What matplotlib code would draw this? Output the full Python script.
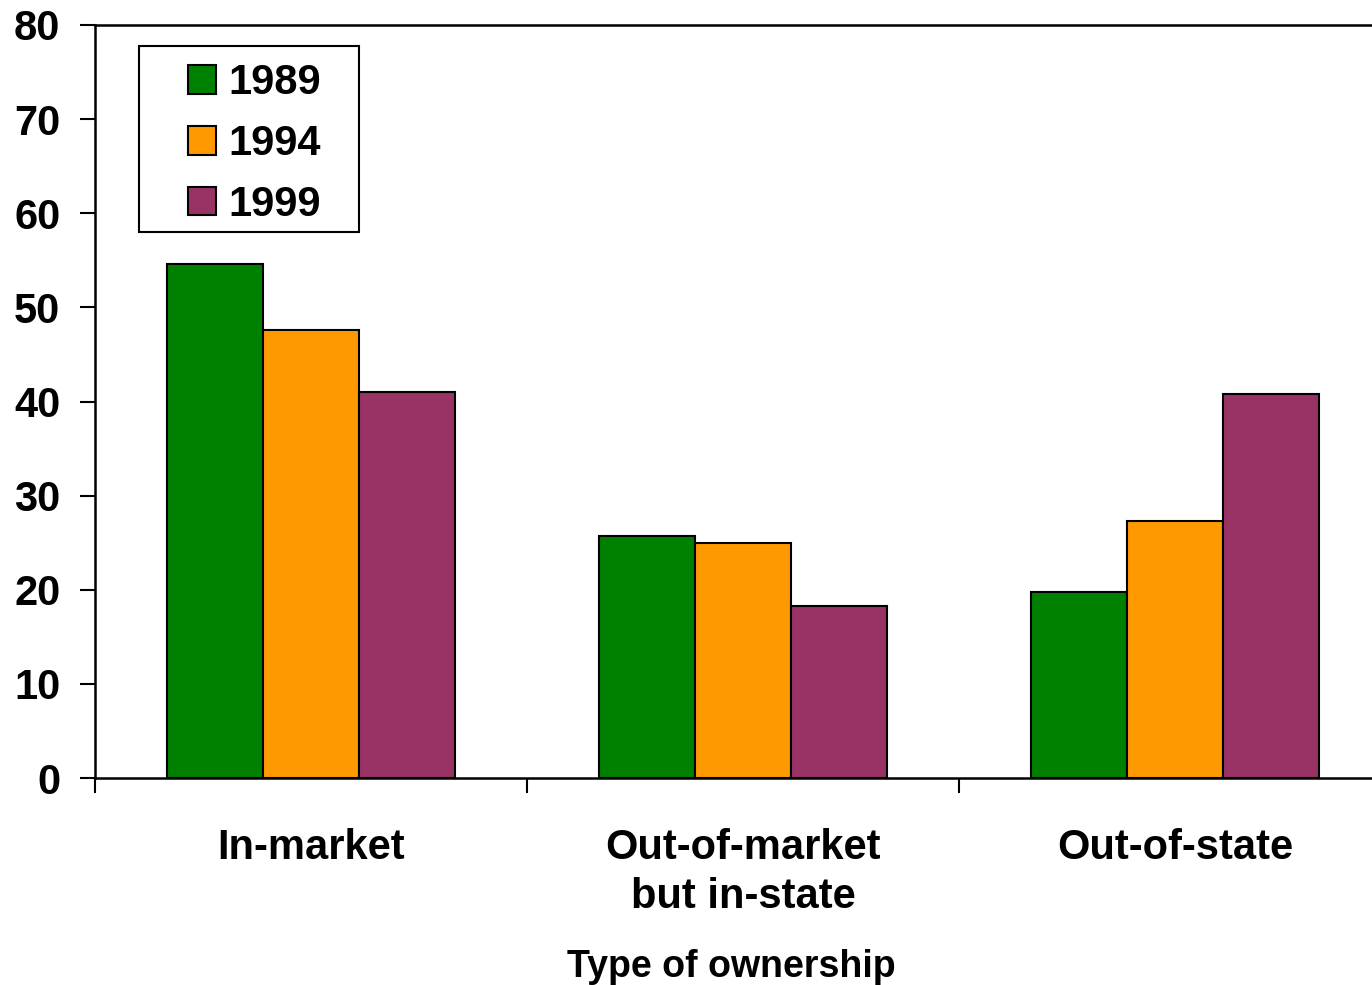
import numpy as np
import matplotlib
matplotlib.use("Agg")
import matplotlib.pyplot as plt
from matplotlib.patches import Rectangle

categories = ["In-market", "Out-of-market\nbut in-state", "Out-of-state"]
years = ["1989", "1994", "1999"]
v1989 = [54.6, 25.7, 19.8]
v1994 = [47.6, 25.0, 27.3]
v1999 = [41.0, 18.3, 40.8]
colors = ["#008000", "#FF9900", "#993366"]

plt.rcParams['font.family'] = ['Liberation Sans', 'DejaVu Sans']
plt.rcParams['font.weight'] = 'bold'

fig = plt.figure(figsize=(13.72, 9.85), dpi=100)
# axes runs a bit past the right edge, as in the original
ax = fig.add_axes([95 / 1372, 1 - 778 / 985, 1296 / 1372, 753 / 985])

x = np.arange(len(categories))
w = 0.222
for i, (vals, yr) in enumerate(zip([v1989, v1994, v1999], years)):
    ax.bar(x + (i - 1) * w, vals, w, color=colors[i], edgecolor="black",
           linewidth=1.5, label=yr, zorder=2)

ax.set_xlim(-0.5, 2.5)
ax.set_ylim(0, 80)
ax.set_yticks(range(0, 81, 10))

# tick marks between groups, labels under groups
ax.set_xticks([-0.5, 0.5, 1.5])
ax.set_xticklabels([])
ax.set_xticks(x, minor=True)
ax.set_xticklabels(categories, minor=True, fontsize=30, fontweight='bold',
                   linespacing=1.28)
ax.tick_params(axis='x', which='minor', length=0, pad=36)
ax.tick_params(axis='x', which='major', length=11, width=1.5, direction='out')
ax.tick_params(axis='y', length=11, width=1.5, pad=14, labelsize=30)
for t in ax.get_yticklabels():
    t.set_fontweight('bold')

ax.spines['right'].set_visible(False)
for s in ['left', 'bottom', 'top']:
    ax.spines[s].set_linewidth(1.8)

ax.set_xlabel("Type of ownership", fontsize=27, fontweight='bold', labelpad=23)
ax.xaxis.label.set_x(0.4907)

# legend box
ax.add_patch(Rectangle((0.034, 0.725), 0.1697, 0.247, transform=ax.transAxes,
                       facecolor='white', edgecolor='black', linewidth=1.5,
                       zorder=4))
leg = ax.legend(loc='center', bbox_to_anchor=(0.123, 0.842), fontsize=30,
                handlelength=0.67, handleheight=0.67, handletextpad=0.29,
                labelspacing=0.5, borderpad=0, borderaxespad=0,
                frameon=False)
leg.set_zorder(5)
for t in leg.get_texts():
    t.set_fontweight('bold')

fig.savefig("out.png", dpi=100)
